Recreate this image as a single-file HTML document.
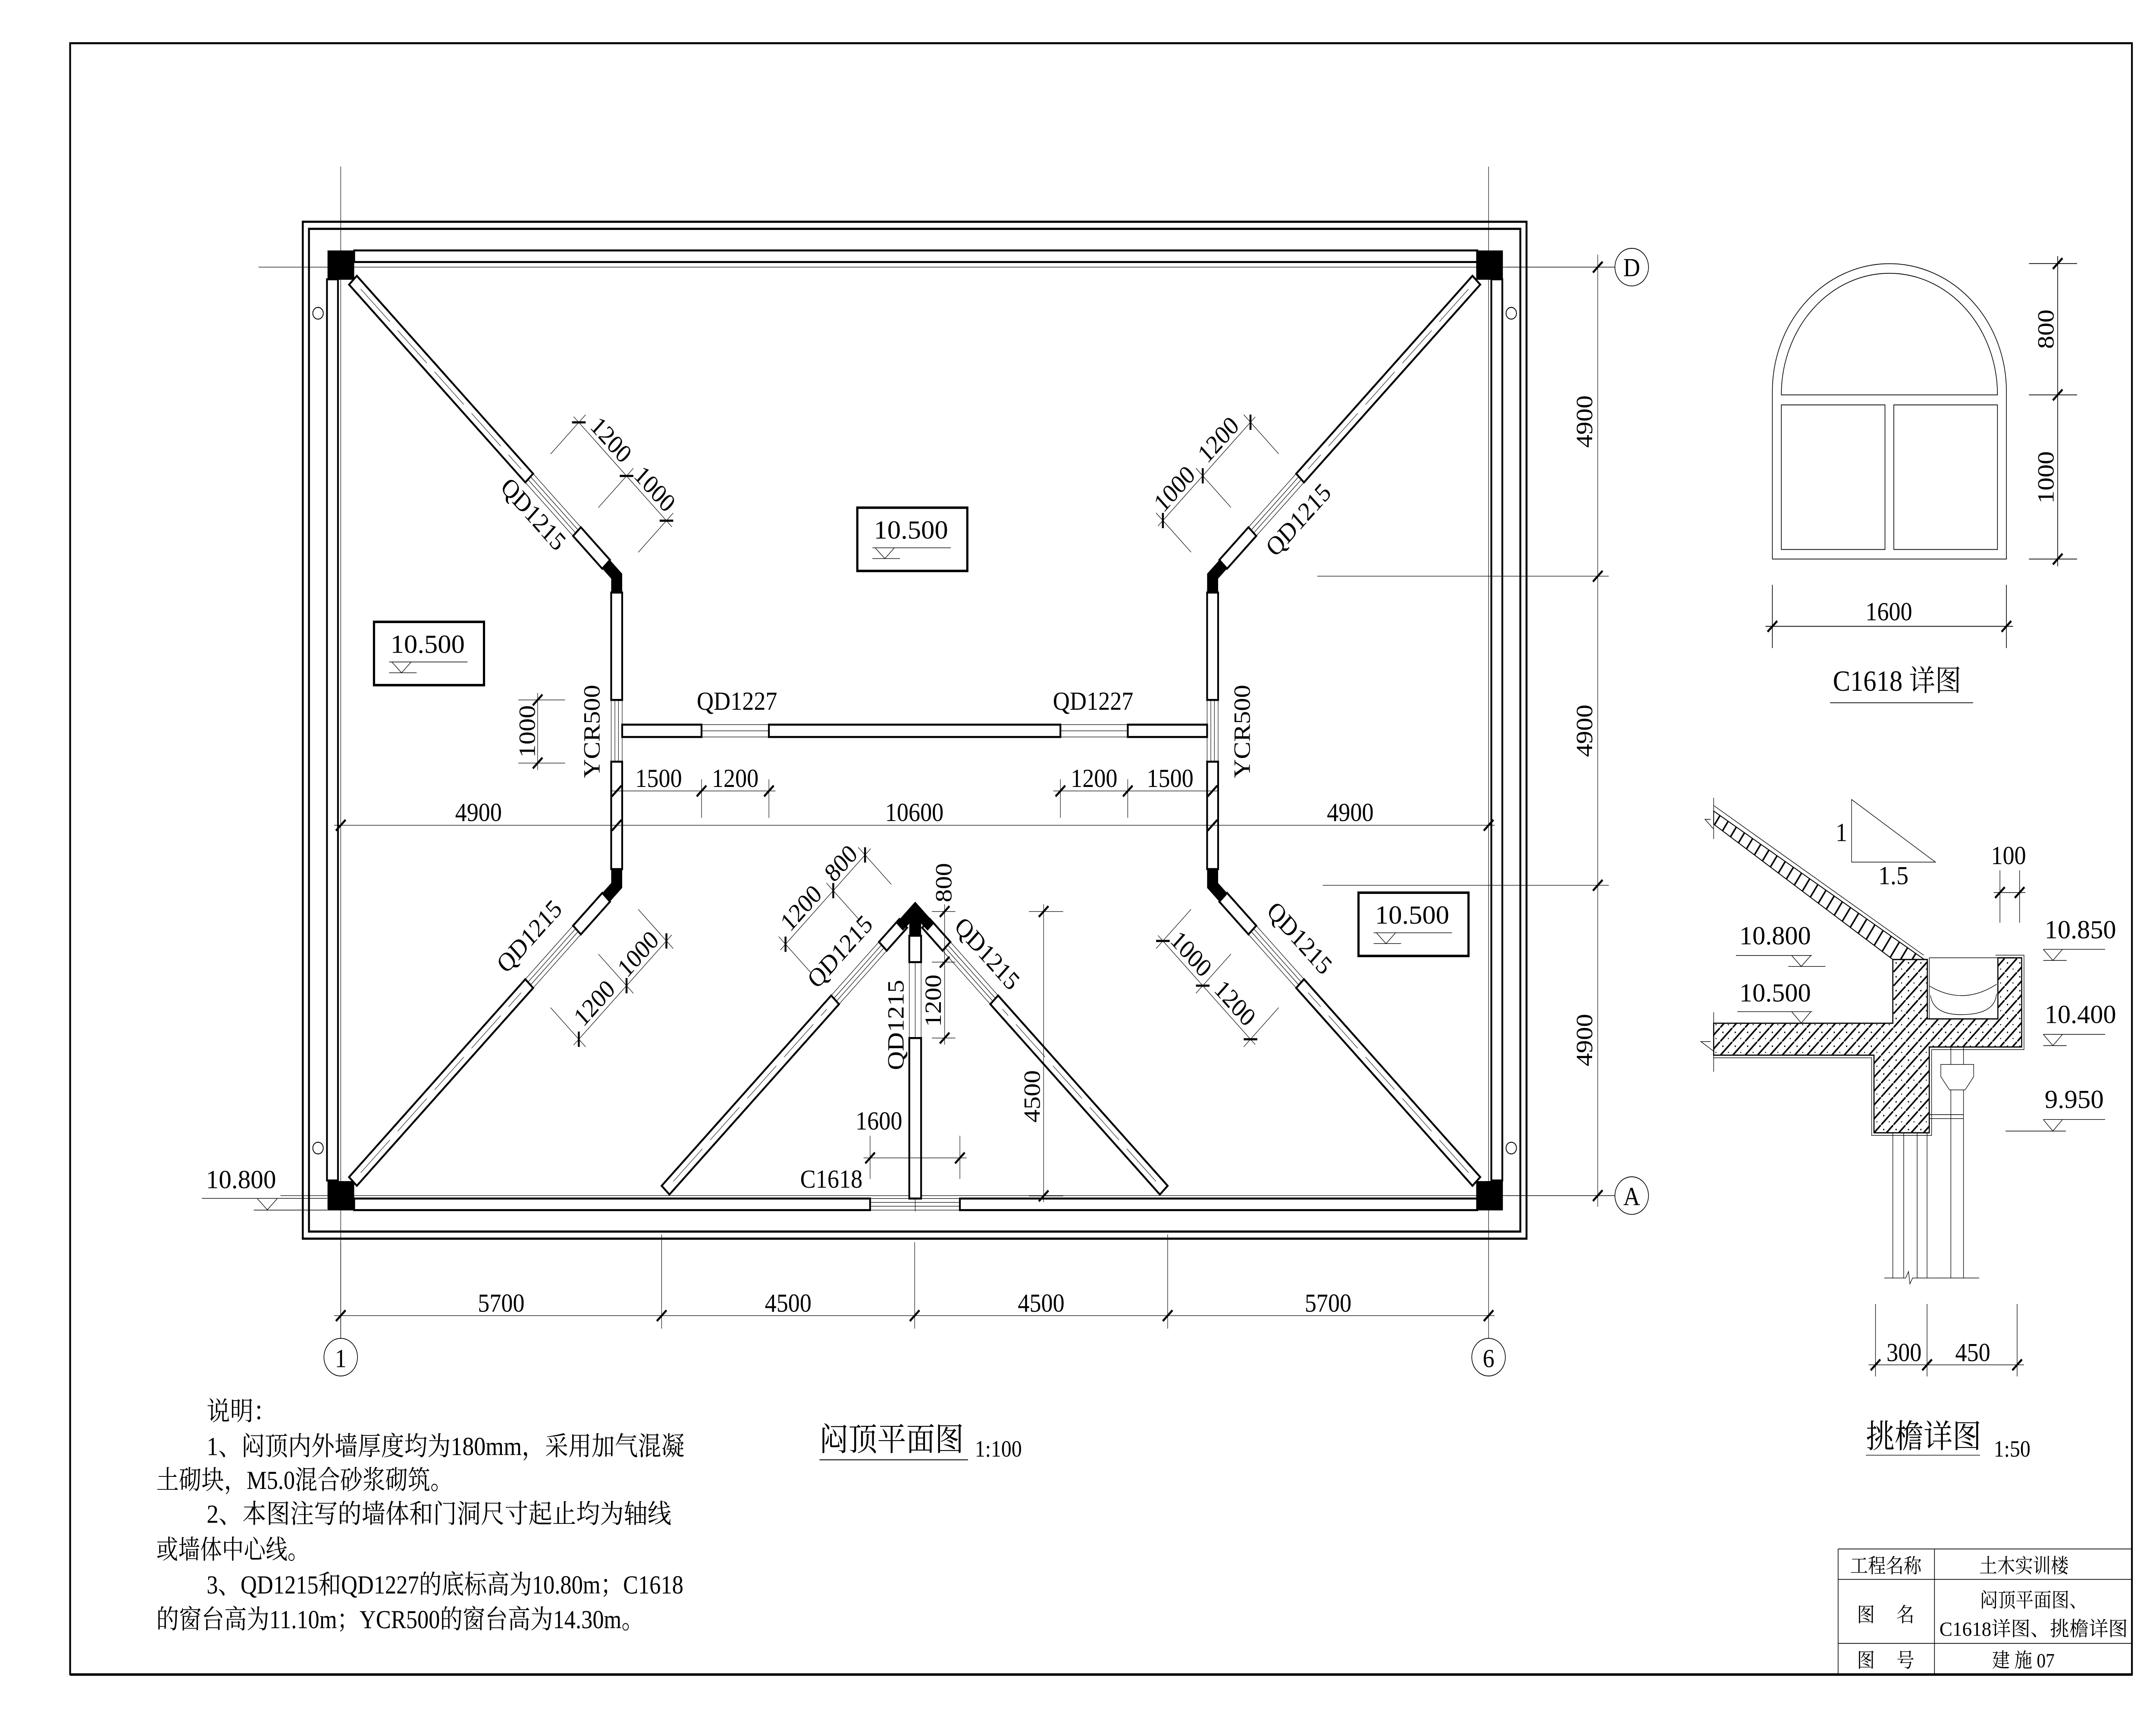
<!DOCTYPE html>
<html><head><meta charset="utf-8"><style>
html,body{margin:0;padding:0;background:#fff;width:100%;height:100%;overflow:hidden}
svg{display:block;width:100vw;height:100vh}
text{font-family:"Liberation Serif","Noto Serif CJK SC",serif;fill:#000}
.cj{font-family:"Liberation Serif","Noto Serif CJK SC","Noto Sans CJK SC",serif}
</style></head><body>
<svg xmlns="http://www.w3.org/2000/svg" xmlns:xlink="http://www.w3.org/1999/xlink" width="100%" height="100%" viewBox="0 0 1568 1108.8" preserveAspectRatio="none">
<defs>
<path id="t" d="M-3.5,3.5 L3.5,-3.5" stroke="#000" stroke-width="1.4"/>
<pattern id="hc" patternUnits="userSpaceOnUse" width="9" height="9"><path d="M-1,10 L10,-1" stroke="#000" stroke-width="1.1"/><circle cx="2" cy="3" r="0.5"/><circle cx="6" cy="7" r="0.4"/></pattern>
<pattern id="hs" patternUnits="userSpaceOnUse" width="7" height="12" patternTransform="rotate(33.8)"><path d="M3.5,0 L3.5,12" stroke="#000" stroke-width="1.1"/></pattern>
<g id="Q">
  <g transform="translate(248.2,173.1) rotate(45)">
    <rect x="12" y="-4" width="181.3" height="8" fill="#fff" stroke="#000" stroke-width="1.3"/>
    <line x1="20" y1="0" x2="185" y2="0" stroke="#000" stroke-width="0.3" stroke-dasharray="30,8"/>
    <g stroke="#000" stroke-width="0.35"><line x1="193.3" y1="-4" x2="242.4" y2="-4"/><line x1="193.3" y1="-1.3" x2="242.4" y2="-1.3"/><line x1="193.3" y1="1.3" x2="242.4" y2="1.3"/><line x1="193.3" y1="4" x2="242.4" y2="4"/></g>
    <rect x="242.4" y="-4" width="30" height="8" fill="#fff" stroke="#000" stroke-width="1.3"/>
  </g>
  <polygon points="443.6,362.9 452.5,371.8 452.5,384 444.5,384 444.5,375 438,368.5" fill="#000"/>
  <rect x="444.5" y="384" width="8" height="69.6" fill="#fff" stroke="#000" stroke-width="1.3"/>
  <g stroke="#000" stroke-width="0.35"><line x1="444.5" y1="453.6" x2="444.5" y2="473.6"/><line x1="447.2" y1="453.6" x2="447.2" y2="473.6"/><line x1="449.8" y1="453.6" x2="449.8" y2="473.6"/><line x1="452.5" y1="453.6" x2="452.5" y2="473.6"/></g>
</g>
<g id="CD">
  <g transform="translate(481.2,774.1) rotate(-45)">
    <rect x="4" y="-4" width="174.4" height="8" fill="#fff" stroke="#000" stroke-width="1.3"/>
    <line x1="12" y1="0" x2="170" y2="0" stroke="#000" stroke-width="0.3" stroke-dasharray="30,8"/>
    <g stroke="#000" stroke-width="0.35"><line x1="178.4" y1="-4" x2="227.5" y2="-4"/><line x1="178.4" y1="-1.3" x2="227.5" y2="-1.3"/><line x1="178.4" y1="1.3" x2="227.5" y2="1.3"/><line x1="178.4" y1="4" x2="227.5" y2="4"/></g>
    <rect x="227.5" y="-4" width="21" height="8" fill="#fff" stroke="#000" stroke-width="1.3"/>
  </g>
</g>
</defs>
<rect width="1568" height="1108.8" fill="#fff"/>
<rect x="51" y="28" width="1499.5" height="1057" fill="none" stroke="#000" stroke-width="1.3"/>
<line x1="51" y1="1085.3" x2="1551" y2="1085.3" stroke="#000" stroke-width="1.4"/>

<g stroke="#000" stroke-width="0.35" fill="none">
<line x1="247.8" y1="108" x2="247.8" y2="867.3"/>
<line x1="1082.6" y1="108" x2="1082.6" y2="867.3"/>
<line x1="188" y1="173.1" x2="1174.5" y2="173.1"/>
<line x1="204" y1="774.8" x2="1174.5" y2="774.8"/>
</g>
<rect x="220.2" y="143.7" width="890" height="659" fill="none" stroke="#000" stroke-width="1.4"/>
<rect x="224.7" y="148.3" width="881" height="649.8" fill="none" stroke="#000" stroke-width="1.4"/>
<g fill="none" stroke="#000" stroke-width="0.6">
<circle cx="231.3" cy="203" r="3.8"/><circle cx="231.3" cy="744" r="3.8"/><circle cx="1099.1" cy="203" r="3.8"/><circle cx="1099.1" cy="744" r="3.8"/>
</g>
<g fill="#fff" stroke="#000" stroke-width="1.3">
<rect x="257.6" y="162.3" width="816.8" height="7.5"/>
<rect x="257.6" y="776.7" width="375.2" height="7.5"/>
<rect x="698.1" y="776.7" width="376.3" height="7.5"/>
<rect x="237.8" y="181" width="8" height="584"/>
<rect x="1084.6" y="181" width="8" height="584"/>
</g>
<g stroke="#000" stroke-width="0.35"><line x1="632.8" y1="776.7" x2="698.1" y2="776.7"/><line x1="632.8" y1="779.2" x2="698.1" y2="779.2"/><line x1="632.8" y1="781.7" x2="698.1" y2="781.7"/><line x1="632.8" y1="784.2" x2="698.1" y2="784.2"/><line x1="665.6" y1="776" x2="665.6" y2="785"/></g>
<g fill="#000">
<rect x="238.2" y="162.3" width="19.4" height="19"/>
<rect x="1073.6" y="162.3" width="19.4" height="19"/>
<rect x="238.2" y="765.4" width="19.4" height="19"/>
<rect x="1073.6" y="765.4" width="19.4" height="19"/>
</g>
<use xlink:href="#Q"/>
<use xlink:href="#Q" transform="translate(0,947.2) scale(1,-1)"/>
<use xlink:href="#Q" transform="translate(1330.4,0) scale(-1,1)"/>
<use xlink:href="#Q" transform="translate(1330.4,947.2) scale(-1,-1)"/>
<g fill="#fff" stroke="#000" stroke-width="1.3">
<rect x="452.5" y="469.6" width="57.7" height="8"/>
<rect x="559.2" y="469.6" width="212" height="8"/>
<rect x="820.2" y="469.6" width="57.7" height="8"/>
</g>
<g stroke="#000" stroke-width="0.35">
<line x1="510.2" y1="469.6" x2="559.2" y2="469.6"/><line x1="510.2" y1="477.6" x2="559.2" y2="477.6"/><line x1="510.2" y1="473.6" x2="559.2" y2="473.6"/>
<line x1="771.2" y1="469.6" x2="820.2" y2="469.6"/><line x1="771.2" y1="477.6" x2="820.2" y2="477.6"/><line x1="771.2" y1="473.6" x2="820.2" y2="473.6"/>
</g>
<use xlink:href="#CD"/>
<use xlink:href="#CD" transform="translate(1330.4,0) scale(-1,1)"/>
<polygon points="665.6,584.3 679.5,598.2 674.6,603.1 669.9,598.5 669.9,606.4 661.3,606.4 661.3,598.5 656.6,603.1 651.7,598.2" fill="#000"/>
<rect x="661.3" y="606.4" width="8.6" height="17.1" fill="#fff" stroke="#000" stroke-width="1.3"/>
<g stroke="#000" stroke-width="0.35"><line x1="661.3" y1="623.5" x2="661.3" y2="672.7"/><line x1="665.6" y1="623.5" x2="665.6" y2="672.7"/><line x1="669.9" y1="623.5" x2="669.9" y2="672.7"/></g>
<rect x="661.3" y="672.7" width="8.6" height="104" fill="#fff" stroke="#000" stroke-width="1.3"/>

<g font-size="17" text-anchor="middle">
<g transform="translate(248.2,173.1) rotate(45)">
  <g stroke="#000" stroke-width="0.35"><line x1="188" y1="-51" x2="289" y2="-51"/><line x1="193.3" y1="-22" x2="193.3" y2="-58"/><line x1="242.4" y1="-22" x2="242.4" y2="-58"/><line x1="283.4" y1="-22" x2="283.4" y2="-58"/></g>
  <use xlink:href="#t" x="193.3" y="-51"/><use xlink:href="#t" x="242.4" y="-51"/><use xlink:href="#t" x="283.4" y="-51"/>
  <text x="217.9" y="-54">1200</text><text x="262.9" y="-54">1000</text>
  <text x="212" y="20">QD1215</text>
</g>
<g transform="translate(248.2,774.1) rotate(-45)">
  <g stroke="#000" stroke-width="0.35"><line x1="188" y1="51" x2="289" y2="51"/><line x1="193.3" y1="22" x2="193.3" y2="58"/><line x1="242.4" y1="22" x2="242.4" y2="58"/><line x1="283.4" y1="22" x2="283.4" y2="58"/></g>
  <use xlink:href="#t" x="193.3" y="51"/><use xlink:href="#t" x="242.4" y="51"/><use xlink:href="#t" x="283.4" y="51"/>
  <text x="217.9" y="48">1200</text><text x="262.9" y="48">1000</text>
  <text x="215" y="-16">QD1215</text>
</g>
<g transform="translate(881.8,373.4) rotate(-45)">
  <g stroke="#000" stroke-width="0.35"><line x1="-5" y1="-51" x2="95" y2="-51"/><line x1="0" y1="-22" x2="0" y2="-58"/><line x1="41" y1="-22" x2="41" y2="-58"/><line x1="90.1" y1="-22" x2="90.1" y2="-58"/></g>
  <use xlink:href="#t" x="0" y="-51"/><use xlink:href="#t" x="41" y="-51"/><use xlink:href="#t" x="90.1" y="-51"/>
  <text x="20.5" y="-54">1000</text><text x="65.6" y="-54">1200</text>
  <text x="70" y="24">QD1215</text>
</g>
<g transform="translate(881.8,573.7) rotate(45)">
  <g stroke="#000" stroke-width="0.35"><line x1="-5" y1="51" x2="95" y2="51"/><line x1="0" y1="22" x2="0" y2="58"/><line x1="41" y1="22" x2="41" y2="58"/><line x1="90.1" y1="22" x2="90.1" y2="58"/></g>
  <use xlink:href="#t" x="0" y="51"/><use xlink:href="#t" x="41" y="51"/><use xlink:href="#t" x="90.1" y="51"/>
  <text x="20.5" y="48">1000</text><text x="65.6" y="48">1200</text>
  <text x="69" y="-15">QD1215</text>
</g>
<g transform="translate(481.2,774.1) rotate(-45)">
  <g stroke="#000" stroke-width="0.35"><line x1="173" y1="-51" x2="266" y2="-51"/><line x1="178.4" y1="-24" x2="178.4" y2="-58"/><line x1="227.5" y1="-24" x2="227.5" y2="-58"/><line x1="260.2" y1="-24" x2="260.2" y2="-58"/></g>
  <use xlink:href="#t" x="178.4" y="-51"/><use xlink:href="#t" x="227.5" y="-51"/><use xlink:href="#t" x="260.2" y="-51"/>
  <text x="203" y="-54">1200</text><text x="244" y="-54">800</text>
  <text x="203" y="-14">QD1215</text>
</g>
<g transform="translate(665.2,590.1) rotate(45)">
  <text x="57" y="-12">QD1215</text>
</g>
</g>

<g stroke="#000" stroke-width="0.35">
<line x1="687" y1="586" x2="687" y2="677"/>
<line x1="677.7" y1="590.7" x2="694.8" y2="590.7"/><line x1="677.7" y1="623.5" x2="694.8" y2="623.5"/><line x1="677.7" y1="672.7" x2="694.8" y2="672.7"/>
<line x1="759" y1="586" x2="759" y2="779"/>
<line x1="748.3" y1="590.7" x2="773.2" y2="590.7"/><line x1="748.3" y1="775" x2="773.2" y2="775"/>
<line x1="628" y1="750.4" x2="703" y2="750.4"/>
<line x1="632.8" y1="736" x2="632.8" y2="764"/><line x1="698.1" y1="736" x2="698.1" y2="764"/>
</g>
<use xlink:href="#t" x="687" y="590.7"/><use xlink:href="#t" x="687" y="623.5"/><use xlink:href="#t" x="687" y="672.7"/>
<use xlink:href="#t" x="759" y="590.7"/><use xlink:href="#t" x="759" y="775"/>
<use xlink:href="#t" x="632.8" y="750.4"/><use xlink:href="#t" x="698.1" y="750.4"/>
<g font-size="17" text-anchor="middle">
<text transform="translate(692,572) rotate(-90)">800</text>
<text transform="translate(684.2,648.5) rotate(-90)">1200</text>
<text transform="translate(657.1,664.2) rotate(-90)">QD1215</text>
<text transform="translate(756.2,710.5) rotate(-90)">4500</text>
<text x="639.2" y="732">1600</text>
<text x="604.6" y="769.7">C1618</text>
</g>

<g stroke="#000" stroke-width="0.35">
<line x1="391" y1="449" x2="391" y2="499"/>
<line x1="377" y1="453.6" x2="411" y2="453.6"/><line x1="377" y1="494.5" x2="411" y2="494.5"/>
<line x1="444" y1="512.6" x2="564" y2="512.6"/>
<line x1="510.2" y1="505" x2="510.2" y2="530"/><line x1="559.2" y1="505" x2="559.2" y2="530"/>
<line x1="766" y1="512.6" x2="886" y2="512.6"/>
<line x1="820.2" y1="505" x2="820.2" y2="530"/><line x1="771.2" y1="505" x2="771.2" y2="530"/>
<line x1="243" y1="534.8" x2="1087" y2="534.8"/>
</g>
<use xlink:href="#t" x="391" y="453.6"/><use xlink:href="#t" x="391" y="494.5"/>
<use xlink:href="#t" x="448.5" y="512.6"/><use xlink:href="#t" x="510.2" y="512.6"/><use xlink:href="#t" x="559.2" y="512.6"/>
<use xlink:href="#t" x="771.2" y="512.6"/><use xlink:href="#t" x="820.2" y="512.6"/><use xlink:href="#t" x="881.8" y="512.6"/>
<use xlink:href="#t" x="247.8" y="534.8"/><use xlink:href="#t" x="448.5" y="534.8"/><use xlink:href="#t" x="881.8" y="534.8"/><use xlink:href="#t" x="1082.6" y="534.8"/>
<g font-size="17" text-anchor="middle">
<text transform="translate(389,474) rotate(-90)">1000</text>
<text transform="translate(436,474) rotate(-90)">YCR500</text>
<text transform="translate(909,474) rotate(-90)">YCR500</text>
<text x="536" y="460">QD1227</text>
<text x="795" y="460">QD1227</text>
<text x="479" y="510">1500</text>
<text x="534.7" y="510">1200</text>
<text x="795.7" y="510">1200</text>
<text x="851" y="510">1500</text>
<text x="348" y="532">4900</text>
<text x="665" y="532">10600</text>
<text x="982" y="532">4900</text>
</g>

<g id="eb1">
<rect x="272" y="403" width="80" height="41" fill="none" stroke="#000" stroke-width="1.6"/>
<text x="284" y="423" font-size="17" textLength="54" lengthAdjust="spacingAndGlyphs">10.500</text>
<line x1="283" y1="429" x2="340" y2="429" stroke="#000" stroke-width="0.4"/>
<polyline points="285,429 292,436 299,429" fill="none" stroke="#000" stroke-width="0.4"/>
<line x1="283" y1="436" x2="303" y2="436" stroke="#000" stroke-width="0.4"/>
</g>
<use xlink:href="#eb1" transform="translate(351.5,-74)"/>
<use xlink:href="#eb1" transform="translate(716,175.5)"/>

<g stroke="#000" stroke-width="0.35">
<line x1="1162" y1="165" x2="1162" y2="782"/>
<line x1="1095" y1="173.1" x2="1174.5" y2="173.1"/>
<line x1="958" y1="373.4" x2="1170" y2="373.4"/>
<line x1="962" y1="573.7" x2="1170" y2="573.7"/>
<line x1="1095" y1="774.8" x2="1174.5" y2="774.8"/>
<line x1="247.8" y1="805" x2="247.8" y2="867"/>
<line x1="481.2" y1="800" x2="481.2" y2="861"/>
<line x1="665.2" y1="805" x2="665.2" y2="861"/>
<line x1="849.2" y1="800" x2="849.2" y2="861"/>
<line x1="243" y1="852.6" x2="1087" y2="852.6"/>
</g>
<use xlink:href="#t" x="1162" y="173.1"/><use xlink:href="#t" x="1162" y="373.4"/><use xlink:href="#t" x="1162" y="573.7"/><use xlink:href="#t" x="1162" y="774.8"/>
<use xlink:href="#t" x="247.8" y="852.6"/><use xlink:href="#t" x="481.2" y="852.6"/><use xlink:href="#t" x="665.2" y="852.6"/><use xlink:href="#t" x="849.2" y="852.6"/><use xlink:href="#t" x="1082.6" y="852.6"/>
<g fill="#fff" stroke="#000" stroke-width="0.5">
<circle cx="1186.7" cy="173.1" r="12.2"/><circle cx="1186.7" cy="774.8" r="12.2"/>
<circle cx="247.8" cy="879.5" r="12.2"/><circle cx="1082.6" cy="879.5" r="12.2"/>
</g>
<g font-size="17" text-anchor="middle">
<text x="1186.7" y="179">D</text><text x="1186.7" y="781">A</text>
<text x="247.8" y="886">1</text><text x="1082.6" y="886">6</text>
<text transform="translate(1158,273.2) rotate(-90)">4900</text>
<text transform="translate(1158,473.6) rotate(-90)">4900</text>
<text transform="translate(1158,674) rotate(-90)">4900</text>
<text x="364.5" y="850">5700</text><text x="573.2" y="850">4500</text><text x="757.2" y="850">4500</text><text x="965.9" y="850">5700</text>
</g>
<text x="149.8" y="770" font-size="17" textLength="51" lengthAdjust="spacingAndGlyphs">10.800</text>
<g stroke="#000" stroke-width="0.4" fill="none">
<line x1="146.8" y1="776.6" x2="238" y2="776.6"/>
<polyline points="187,776.6 194.4,784 201.8,776.6"/>
<line x1="184.6" y1="784.2" x2="238" y2="784.2"/>
</g>

<text x="596" y="940" font-size="21" class="cj">闷顶平面图</text>
<line x1="596" y1="946" x2="704" y2="946" stroke="#000" stroke-width="0.6"/>
<text x="709" y="944" font-size="15">1:100</text>

<g font-size="17" class="cj">
<text x="150.3" y="920.3">说明：</text>
<text x="150.3" y="942.9" textLength="347.5" lengthAdjust="spacingAndGlyphs">1、闷顶内外墙厚度均为180mm，采用加气混凝</text>
<text x="113.7" y="964.9" textLength="215.7" lengthAdjust="spacingAndGlyphs">土砌块，M5.0混合砂浆砌筑。</text>
<text x="150.3" y="986.9" textLength="338" lengthAdjust="spacingAndGlyphs">2、本图注写的墙体和门洞尺寸起止均为轴线</text>
<text x="113.7" y="1010" textLength="111.3" lengthAdjust="spacingAndGlyphs">或墙体中心线。</text>
<text x="150.3" y="1032.6" textLength="346.7" lengthAdjust="spacingAndGlyphs">3、QD1215和QD1227的底标高为10.80m；C1618</text>
<text x="113.7" y="1055.2" textLength="354.7" lengthAdjust="spacingAndGlyphs">的窗台高为11.10m；YCR500的窗台高为14.30m。</text>
</g>

<g stroke="#000" stroke-width="0.5" fill="none">
<line x1="1336.8" y1="1003.8" x2="1550" y2="1003.8"/>
<line x1="1336.8" y1="1023.5" x2="1550" y2="1023.5"/>
<line x1="1336.8" y1="1065" x2="1550" y2="1065"/>
<line x1="1336.8" y1="1003.8" x2="1336.8" y2="1085"/>
<line x1="1406.9" y1="1003.8" x2="1406.9" y2="1085"/>
</g>
<g font-size="13" class="cj" text-anchor="middle">
<text x="1371.5" y="1019.3">工程名称</text>
<text x="1472" y="1019.3">土木实训楼</text>
<text x="1357" y="1051">图</text><text x="1385.7" y="1051">名</text>
<text x="1479" y="1041.5">闷顶平面图、</text>
<text x="1479" y="1060" textLength="137" lengthAdjust="spacingAndGlyphs">C1618详图、挑檐详图</text>
<text x="1357" y="1080.5">图</text><text x="1385.7" y="1080.5">号</text>
<text x="1471.5" y="1080.5">建 施 07</text>
</g>

<g fill="none" stroke="#000" stroke-width="0.5">
<path d="M1289,362.3 L1289,253.5 A85.1,82.7 0 0 1 1459.2,253.5 L1459.2,362.3 Z"/>
<path d="M1295.5,255.9 A78.6,78.8 0 0 1 1452.7,255.9 Z"/>
<rect x="1295.5" y="262.4" width="75.4" height="93.7"/>
<rect x="1377.3" y="262.4" width="75.4" height="93.7"/>
<line x1="1496.5" y1="166" x2="1496.5" y2="367"/>
<line x1="1475.6" y1="170.8" x2="1510.6" y2="170.8"/><line x1="1475.6" y1="255.9" x2="1510.6" y2="255.9"/><line x1="1475.6" y1="362.3" x2="1510.6" y2="362.3"/>
<line x1="1284" y1="405.9" x2="1464" y2="405.9"/>
<line x1="1289" y1="379" x2="1289" y2="420"/><line x1="1459.2" y1="379" x2="1459.2" y2="420"/>
<line x1="1331" y1="455.4" x2="1435" y2="455.4"/>
</g>
<use xlink:href="#t" x="1496.5" y="170.8"/><use xlink:href="#t" x="1496.5" y="255.9"/><use xlink:href="#t" x="1496.5" y="362.3"/>
<use xlink:href="#t" x="1289" y="405.9"/><use xlink:href="#t" x="1459.2" y="405.9"/>
<g font-size="17" text-anchor="middle">
<text transform="translate(1493.5,213.3) rotate(-90)">800</text>
<text transform="translate(1493.5,309.4) rotate(-90)">1000</text>
<text x="1373.7" y="402">1600</text>
</g>
<text x="1333" y="447.6" font-size="19" class="cj">C1618 详图</text>

<polygon points="1246.3,525.6 1399.5,621.8 1376.6,621.8 1246.3,534.1" fill="url(#hs)" stroke="#000" stroke-width="0.6"/>
<line x1="1246.3" y1="522" x2="1399" y2="619" stroke="#000" stroke-width="0.4"/>
<polygon points="1376.6,621.8 1401.7,621.8 1401.7,660.3 1453,660.3 1453,620.7 1470.3,620.7 1470.3,678.5 1403.1,678.5 1403.1,734.1 1362.9,734.1 1362.9,683.8 1246.3,683.8 1246.3,663.1 1376.6,663.1" fill="url(#hc)" stroke="#000" stroke-width="0.8"/>
<g fill="none" stroke="#000" stroke-width="0.4">
<polyline points="1246.3,685.5 1361.2,685.5 1361.2,735.8 1404.8,735.8 1404.8,680.2 1472,680.2 1472,619 1451.3,619"/>
<rect x="1403.1" y="620.7" width="49.9" height="39.6"/>
<path d="M1403.1,638.9 Q1427.6,652 1452.1,637.8"/>
<path d="M1404,645 Q1406,658 1428,657.5 Q1451,657 1452,644"/>
<line x1="1246.3" y1="517" x2="1246.3" y2="543.7"/><line x1="1246.3" y1="656" x2="1246.3" y2="694.5"/>
<polyline points="1244,531 1240,531 1246,537"/>
<polyline points="1244,675 1237,675 1246,681"/>
<line x1="1418.8" y1="678.5" x2="1418.8" y2="828.2"/><line x1="1428" y1="678.5" x2="1428" y2="828.2"/>
<polygon points="1411.5,689.8 1435.4,689.8 1435.4,697.7 1429.2,706.3 1417.8,706.3 1411.5,697.7" fill="#fff"/>
<line x1="1403.1" y1="722.3" x2="1428" y2="722.3"/><line x1="1403.1" y1="724.9" x2="1428" y2="724.9"/>
<line x1="1376.6" y1="734.1" x2="1376.6" y2="828.2"/><line x1="1384.5" y1="734.1" x2="1384.5" y2="828.2"/><line x1="1394.3" y1="734.1" x2="1394.3" y2="828.2"/><line x1="1401.5" y1="734.1" x2="1401.5" y2="828.2"/>
<polyline points="1370.4,828.2 1386,828.2 1388,824 1389,832 1391,828.2 1439.4,828.2"/>
<polygon points="1346.6,518.1 1346.6,558.7 1407.6,558.7"/>
<line x1="1454.5" y1="564" x2="1454.5" y2="598"/><line x1="1468.8" y1="564" x2="1468.8" y2="598"/>
<line x1="1450" y1="578.4" x2="1473" y2="578.4"/>
<line x1="1262.5" y1="619.2" x2="1317.8" y2="619.2"/><polyline points="1303,619.2 1310,626.3 1317,619.2"/><line x1="1300.6" y1="626.3" x2="1327.6" y2="626.3"/>
<line x1="1263.5" y1="655.6" x2="1318" y2="655.6"/><polyline points="1303,655.6 1310,663 1317,655.6"/>
<line x1="1486" y1="615.2" x2="1531" y2="615.2"/><polyline points="1486,615.2 1493,622.4 1500,615.2"/><line x1="1486" y1="622.4" x2="1503" y2="622.4"/>
<line x1="1486" y1="670.3" x2="1531" y2="670.3"/><polyline points="1486,670.3 1493,677.6 1500,670.3"/><line x1="1486" y1="677.6" x2="1503" y2="677.6"/>
<line x1="1486" y1="725.5" x2="1531" y2="725.5"/><polyline points="1486,725.5 1493,733 1500,725.5"/><line x1="1458.6" y1="733" x2="1502.5" y2="733"/>
<line x1="1364" y1="845" x2="1364" y2="892"/><line x1="1401.5" y1="845" x2="1401.5" y2="892"/><line x1="1467" y1="845" x2="1467" y2="892"/>
<line x1="1359" y1="884.5" x2="1472" y2="884.5"/>
<line x1="1357" y1="943" x2="1440" y2="943"/>
</g>
<use xlink:href="#t" x="1454.5" y="578.4"/><use xlink:href="#t" x="1468.8" y="578.4"/>
<use xlink:href="#t" x="1364" y="884.5"/><use xlink:href="#t" x="1401.5" y="884.5"/><use xlink:href="#t" x="1467" y="884.5"/>
<g font-size="17">
<text x="1335" y="545">1</text>
<text x="1366" y="573" textLength="22" lengthAdjust="spacingAndGlyphs">1.5</text>
<text x="1448" y="560">100</text>
<text x="1265" y="612" textLength="52" lengthAdjust="spacingAndGlyphs">10.800</text>
<text x="1265" y="649" textLength="52" lengthAdjust="spacingAndGlyphs">10.500</text>
<text x="1487" y="608" textLength="52" lengthAdjust="spacingAndGlyphs">10.850</text>
<text x="1487" y="663" textLength="52" lengthAdjust="spacingAndGlyphs">10.400</text>
<text x="1487" y="718" textLength="43" lengthAdjust="spacingAndGlyphs">9.950</text>
<text x="1372" y="882">300</text>
<text x="1422" y="882">450</text>
</g>
<text x="1357" y="938" font-size="21" class="cj">挑檐详图</text>
<text x="1450" y="944" font-size="15">1:50</text>
</svg>
</body></html>
